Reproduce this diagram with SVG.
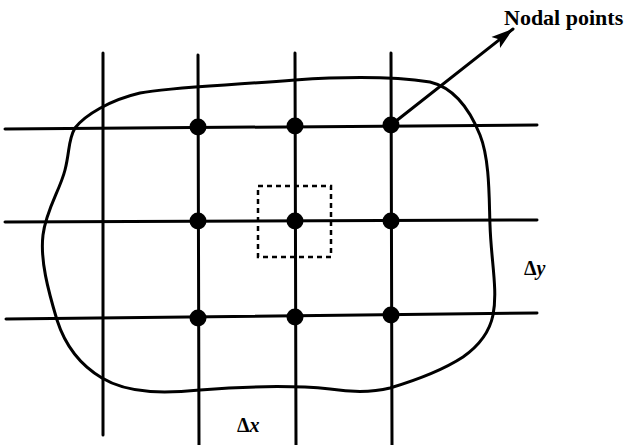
<svg xmlns="http://www.w3.org/2000/svg" width="627" height="445" viewBox="0 0 627 445">
<style>
.ln{stroke:#000;stroke-width:3;fill:none;stroke-linecap:round}
.nd{fill:#000}
.dash{stroke:#000;stroke-width:2.5;fill:none;stroke-dasharray:5 4}
.lbl{font-family:"Liberation Serif","Times New Roman",serif;font-weight:bold;fill:#000}
</style>
<defs>
<marker id="ah" markerWidth="24" markerHeight="16" refX="22" refY="8" orient="auto" markerUnits="userSpaceOnUse">
<path d="M0,1 L22,8 L0,15 L5,8 Z" fill="#000"/>
</marker>
</defs>
<rect width="627" height="445" fill="#fff"/>
<g id="domain">
<path class="ln" d="M75,128 C85,115 110,100 140,93 C170,87 220,86 295,80 C340,77 390,76 430,82 C455,88 470,110 480,135 C490,160 489,200 490,225 C491,260 498,290 493,315 C490,330 480,345 463,357 C440,372 410,382 390,388 C370,393 350,392 330,389 C300,386 250,386 200,390 C170,393 130,395 102,378 C80,365 65,345 57,320 C48,290 40,260 43,235 C46,210 60,190 65,170 C70,150 68,140 75,128 Z"/>
</g>
<g id="grid">
<line class="ln" x1="103" y1="53" x2="103" y2="435"/>
<line class="ln" x1="198" y1="55" x2="199" y2="445"/>
<line class="ln" x1="295" y1="53" x2="296" y2="445"/>
<line class="ln" x1="391" y1="53" x2="392" y2="445"/>
<line class="ln" x1="5" y1="129" x2="537" y2="125"/>
<line class="ln" x1="5" y1="222" x2="537" y2="220"/>
<line class="ln" x1="6" y1="319" x2="537" y2="313"/>
</g>
<g id="control-volume">
<rect class="dash" x="258" y="186" width="73" height="71"/>
</g>
<g id="n11"><circle class="nd" cx="198" cy="127" r="8.5"/></g>
<g id="n12"><circle class="nd" cx="295" cy="126" r="8.5"/></g>
<g id="n13"><circle class="nd" cx="391" cy="125" r="8.5"/></g>
<g id="n21"><circle class="nd" cx="198" cy="221" r="8.5"/></g>
<g id="n22"><circle class="nd" cx="295" cy="221" r="8.5"/></g>
<g id="n23"><circle class="nd" cx="391" cy="221" r="8.5"/></g>
<g id="n31"><circle class="nd" cx="198" cy="318" r="8.5"/></g>
<g id="n32"><circle class="nd" cx="295" cy="317" r="8.5"/></g>
<g id="n33"><circle class="nd" cx="391" cy="315" r="8.5"/></g>
<g id="connectors">
<line class="ln" x1="391" y1="125" x2="513" y2="29" marker-end="url(#ah)"/>
</g>
<g id="labels">
<text class="lbl" x="504" y="25" font-size="22">Nodal points</text>
<text class="lbl" x="524" y="275" font-size="20">Δ<tspan font-style="italic">y</tspan></text>
<text class="lbl" x="237" y="432" font-size="20">Δ<tspan font-style="italic">x</tspan></text>
</g>
</svg>
